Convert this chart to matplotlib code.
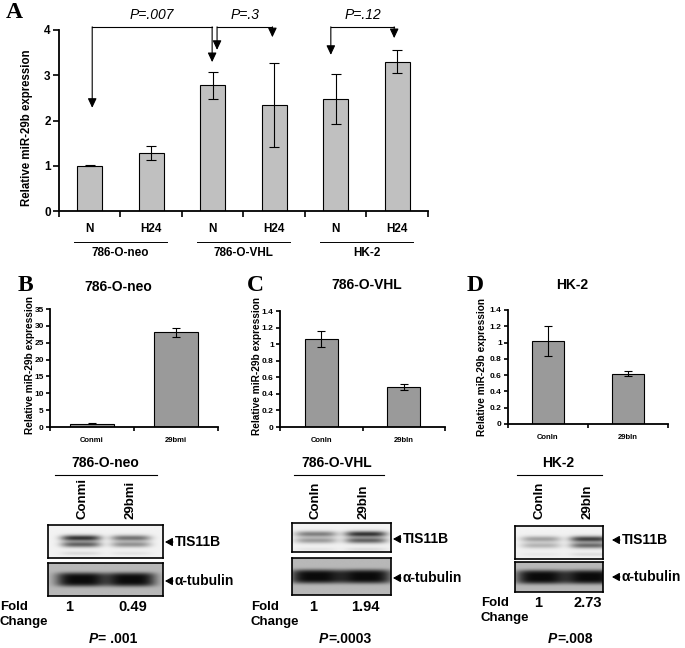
import matplotlib
matplotlib.use("Agg")
import matplotlib.pyplot as plt
import numpy as np
from matplotlib.ticker import FuncFormatter

plt.rcParams['font.family'] = ['Liberation Sans', 'DejaVu Sans']
plt.rcParams['font.weight'] = 'bold'

# ---- panel A data ----
a_conditions = ['N', 'H24', 'N', 'H24', 'N', 'H24']
a_cells = ['786-O-neo', '786-O-VHL', 'HK-2']
a_values = [1.00, 1.28, 2.78, 2.35, 2.47, 3.30]
a_errors = [0.01, 0.16, 0.30, 0.93, 0.55, 0.26]
a_pvalues = ['P=.007', 'P=.3', 'P=.12']
# bracket ends (x in bar units) and where the arrow heads stop (y in expression units)
a_bracket_x = [(0.54, 2.49), (2.57, 3.47), (4.42, 5.45)]
a_bracket_tips = [(2.28, 3.29), (3.56, 3.84), (3.45, 3.82)]
a_bracket_top = 4.07

# ---- panels B-D data ----
b_labels = ['Conmi', '29bmi']
b_values = [1.0, 28.1]
b_errors = [0.2, 1.3]
c_labels = ['ConIn', '29bIn']
c_values = [1.06, 0.48]
c_errors = [0.10, 0.035]
d_labels = ['ConIn', '29bIn']
d_values = [1.02, 0.62]
d_errors = [0.18, 0.025]

# ---- western blots ----
fold_b = ['1', '0.49']
fold_c = ['1', '1.94']
fold_d = ['1', '2.73']
p_blots = ['P= .001', 'P=.0003', 'P=.008']
tis_strength_b = [0.75, 0.50]
tis_strength_c = [0.45, 0.75]
tis_strength_d = [0.32, 0.70]
tub_strength = [0.68, 0.68]

W, H = 685, 648
fig = plt.figure(figsize=(W / 100, H / 100), dpi=100)


def rect(x, y, w, h):
    return [x / W, 1 - (y + h) / H, w / W, h / H]


# ================= panel A =================
axA = fig.add_axes(rect(59, 30, 369, 181))
xa = np.arange(len(a_values)) + 0.5
axA.bar(xa, a_values, 0.41, color='#c0c0c0', edgecolor='black', linewidth=0.8,
        yerr=a_errors, capsize=3.5, error_kw=dict(elinewidth=0.8, capthick=0.8))
axA.set_xlim(0, 6)
axA.set_ylim(0, 4)
axA.set_yticks(range(5))
axA.set_xticks(range(7))
axA.set_xticklabels([])
axA.tick_params(direction='out', length=4, width=1.2, labelsize=8.5, pad=2)
axA.spines[['top', 'right']].set_visible(False)
axA.spines[['left', 'bottom']].set_linewidth(1.3)

for (xl, xr), (tl, tr), p in zip(a_bracket_x, a_bracket_tips, a_pvalues):
    axA.plot([xl, xr], [a_bracket_top, a_bracket_top], color='black', lw=0.8, clip_on=False)
    for xx, tip in ((xl, tl), (xr, tr)):
        axA.annotate('', xy=(xx, tip), xytext=(xx, a_bracket_top),
                     arrowprops=dict(arrowstyle='-|>,head_length=0.7,head_width=0.33',
                                     color='black', lw=0.8, shrinkA=0, shrinkB=0,
                                     mutation_scale=8),
                     annotation_clip=False)
    axA.text((xl + xr) / 2, 4.33, p, ha='center', va='center', style='italic',
             fontweight='normal', fontsize=10)

tr_x = axA.get_xaxis_transform()
for x, c in zip(xa, a_conditions):
    axA.text(x, -0.10, c, transform=tr_x, ha='center', va='center', fontsize=8.5)
for g, name in enumerate(a_cells):
    cx = 2 * g + 1
    axA.plot([cx - 0.75, cx + 0.75], [-0.172, -0.172], transform=tr_x, color='black',
             lw=0.7, clip_on=False)
    axA.text(cx, -0.232, name, transform=tr_x, ha='center', va='center', fontsize=8.5)

fig.text(27 / W, 1 - 128 / H, 'Relative miR-29b expression', rotation=90,
         ha='center', va='center', fontsize=8.3)


# ================= panels B-D =================
def small_chart(px, labels, values, errors, ymax, step, width):
    ax = fig.add_axes(rect(*px))
    x = np.arange(len(values)) + 0.5
    ax.bar(x, values, width, color='#9a9a9a', edgecolor='black', linewidth=0.8,
           yerr=errors, capsize=3, error_kw=dict(elinewidth=0.8, capthick=0.8))
    ax.set_xlim(0, len(values))
    ax.set_ylim(0, ymax)
    ax.set_yticks(np.arange(0, ymax + step / 2, step))
    ax.yaxis.set_major_formatter(FuncFormatter(lambda v, _: f'{v:g}'))
    ax.set_xticks(x)
    ax.set_xticklabels(labels)
    ax.set_xticks(np.arange(len(values) + 1), minor=True)
    ax.tick_params(axis='x', which='major', length=0, labelsize=5.5, pad=7)
    ax.tick_params(axis='x', which='minor', length=3, width=1.2, direction='out')
    ax.tick_params(axis='y', length=3, width=1.2, direction='out', labelsize=6, pad=1.5)
    ax.spines[['top', 'right']].set_visible(False)
    ax.spines[['left', 'bottom']].set_linewidth(1.3)
    return ax


small_chart((50, 309, 168, 118), b_labels, b_values, b_errors, 35, 5, 0.52)
small_chart((280, 311, 165, 116), c_labels, c_values, c_errors, 1.4, 0.2, 0.40)
small_chart((508, 310, 160, 114), d_labels, d_values, d_errors, 1.4, 0.2, 0.40)

for x, y, t in ((118, 287, '786-O-neo'), (367, 285, '786-O-VHL'), (572, 285, 'HK-2')):
    fig.text(x / W, 1 - y / H, t, ha='center', va='center', fontsize=10)
for x, y in ((30, 365), (257, 366), (482, 367)):
    fig.text(x / W, 1 - y / H, 'Relative miR-29b expression', rotation=90,
             ha='center', va='center', fontsize=7.3)
for x, y, t in ((14, 13, 'A'), (25, 285, 'B'), (255, 285, 'C'), (475, 285, 'D')):
    fig.text(x / W, 1 - y / H, t, ha='center', va='center', fontsize=17,
             family='Liberation Serif', fontweight='bold')


# ================= blots =================
def blot(x0, y0, x1, y1, lanes, strengths, bg, doublet, lane_w):
    ax = fig.add_axes(rect(x0, y0, x1 - x0, y1 - y0))
    xs = np.linspace(x0, x1, 200)
    ys = np.linspace(y0, y1, 80)
    X, Y = np.meshgrid(xs, ys)
    yc = (y0 + y1) / 2
    img = np.full(X.shape, bg)
    for cx, s in zip(lanes, strengths):
        fx = np.exp(-np.abs((X - cx) / (lane_w / 2)) ** 4)
        if doublet:
            fy = np.exp(-((Y - yc + 3.5) / 3.0) ** 2) + 0.75 * np.exp(-((Y - yc - 3) / 3.0) ** 2)
            fy += 0.12 * np.exp(-((Y - yc - 12) / 2) ** 2)
        else:
            fy = np.exp(-np.abs((Y - yc) / 7.0) ** 4)
        img -= s * fx * fy
    ax.imshow(np.clip(img, 0, 1), cmap='gray', vmin=0, vmax=1, aspect='auto',
              extent=(x0, x1, y1, y0), interpolation='bilinear')
    ax.set_xticks([])
    ax.set_yticks([])
    for s in ax.spines.values():
        s.set_linewidth(1.2)
    return ax


blot_specs = [
    # tis box, tub box, lanes, tis strengths, lane width
    ((48, 525, 163, 558), (48, 563, 163, 596), (81, 131), tis_strength_b, 40),
    ((292, 523, 391, 552), (292, 558, 391, 595), (316, 366), tis_strength_c, 42),
    ((515, 526, 603, 559), (515, 562, 603, 592), (541, 590), tis_strength_d, 40),
]
for tis_box, tub_box, lanes, tis_s, lw_ in blot_specs:
    blot(*tis_box, lanes, tis_s, 0.95, True, lw_)
    blot(*tub_box, lanes, tub_strength, 0.72, False, lw_ + 10)

ov = fig.add_axes([0, 0, 1, 1])
ov.set_xlim(0, W)
ov.set_ylim(H, 0)
ov.axis('off')

blot_groups = [
    dict(title='786-O-neo', tx=105, line=(55, 157), lanes=(83, 131), labels=b_labels,
         arrow_x=(165, 542, 581), fold_x=0, fold_y=607, vals_x=(69, 133), vals=fold_b, px=113),
    dict(title='786-O-VHL', tx=337, line=(294, 384), lanes=(316, 364), labels=c_labels,
         arrow_x=(393, 539, 578), fold_x=251, fold_y=607, vals_x=(313, 365), vals=fold_c, px=345),
    dict(title='HK-2', tx=558, line=(517, 602), lanes=(540, 588), labels=d_labels,
         arrow_x=(612, 540, 577), fold_x=481, fold_y=603, vals_x=(538, 588), vals=fold_d, px=570),
]

r = fig.canvas.get_renderer()
for g, p in zip(blot_groups, p_blots):
    ov.text(g['tx'], 463, g['title'], ha='center', va='center', fontsize=10)
    ov.plot(g['line'], [475, 475], color='black', lw=0.8)
    for lx, lab in zip(g['lanes'], g['labels']):
        ov.text(lx, 519, lab, rotation=90, ha='center', va='bottom', fontsize=9.5)
    ax_, ty, uy = g['arrow_x']
    for yy, lab in ((ty, 'TIS11B'), (uy, 'α-tubulin')):
        ov.annotate('', xy=(ax_, yy), xytext=(ax_ + 8, yy),
                    arrowprops=dict(arrowstyle='-|>,head_length=0.5,head_width=0.28',
                                    color='black', lw=0.8, shrinkA=0, shrinkB=0,
                                    mutation_scale=9))
        ov.text(ax_ + 10, yy, lab, ha='left', va='center', fontsize=10)
    ov.text(g['fold_x'], g['fold_y'], 'Fold', ha='left', va='center', fontsize=9.5)
    ov.text(g['fold_x'], g['fold_y'] + 15, 'Change', ha='left', va='center', fontsize=9.5)
    for vx, v in zip(g['vals_x'], g['vals']):
        ov.text(vx, g['fold_y'], v, ha='center', va='center', fontsize=10.5)
    t1 = ov.text(0, 639, p[0], ha='left', va='center', style='italic', fontsize=10)
    t2 = ov.text(0, 639, p[1:], ha='left', va='center', fontsize=10)
    w1 = t1.get_window_extent(r).width
    w2 = t2.get_window_extent(r).width
    x0 = g['px'] - (w1 + w2) / 2
    t1.set_x(x0)
    t2.set_x(x0 + w1 + 0.5)

fig.savefig('out.png', dpi=100)
